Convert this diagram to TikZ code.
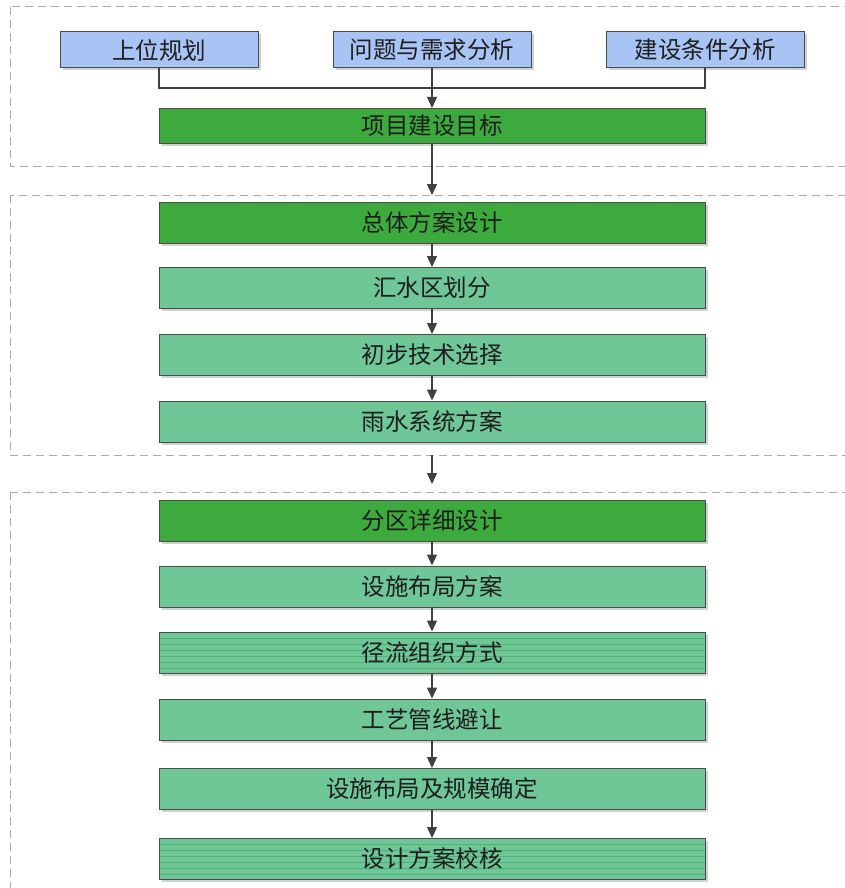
\documentclass[tikz,border=0pt]{standalone}
\usepackage{fontspec}
\newfontfamily\cjk{Noto Sans CJK SC}
\usetikzlibrary{arrows.meta,shadows}
\definecolor{boxline}{HTML}{4A4A4A}
\definecolor{txt}{HTML}{1E1E1E}
\definecolor{bluef}{HTML}{A8C4F4}
\definecolor{darkg}{HTML}{3DAA3D}
\definecolor{midg}{HTML}{6FC697}
\definecolor{stripec}{HTML}{4FB07A}
\definecolor{arrc}{HTML}{404040}
\definecolor{framec}{HTML}{AAAAAA}
\begin{document}
\begin{tikzpicture}[x=1pt,y=-1pt,
  base/.style={draw=boxline, line width=1pt, inner sep=0pt, text=txt,
    font=\cjk\fontsize{23.5}{26}\selectfont,
    drop shadow={shadow xshift=2.5pt, shadow yshift=-2.5pt, fill=black, opacity=0.18}},
  wide/.style={base, minimum width=546pt, minimum height=41pt},
  topbox/.style={base, fill=bluef, minimum width=198pt, minimum height=36pt},
  darkbox/.style={wide, fill=darkg},
  midbox/.style={wide, fill=midg},
  stripebox/.style={midbox, path picture={
      \foreach \k in {1,...,6}{
        \draw[stripec, line width=0.6pt]
          ([yshift=-\k*6pt]path picture bounding box.north west) --
          ([yshift=-\k*6pt]path picture bounding box.north east);}}},
  arr/.style={draw=arrc, line width=1.3pt, -{Triangle[width=10pt,length=11pt]}},
  link/.style={draw=arrc, line width=1.3pt},
  frame/.style={draw=framec, line width=1pt, dash pattern=on 8pt off 5pt}
]
\useasboundingbox (0,0) rectangle (845,888);
\clip (0,0) rectangle (845,888);

% dashed frames
\draw[frame] (10,7) rectangle (870,166);
\draw[frame] (10,195) rectangle (870,455);
\draw[frame] (10,492) rectangle (870,910);

% top row
\node[topbox] (up) at (159,50) {上位规划};
\node[topbox] (need) at (432,50) {问题与需求分析};
\node[topbox] (cond) at (705,50) {建设条件分析};

\node[darkbox, minimum height=35pt] (goal) at (432,126) {项目建设目标};

% section 2
\node[darkbox] (overall) at (432,222.5) {总体方案设计};
\node[midbox] (catch) at (432,288) {汇水区划分};
\node[midbox] (tech) at (432,355) {初步技术选择};
\node[midbox] (rain) at (432,421.5) {雨水系统方案};

% section 3
\node[darkbox] (zone) at (432,520.5) {分区详细设计};
\node[midbox] (layout) at (432,586.5) {设施布局方案};
\node[stripebox] (runoff) at (432,652.5) {径流组织方式};
\node[midbox] (pipe) at (432,719.5) {工艺管线避让};
\node[midbox] (scale) at (432,789) {设施布局及规模确定};
\node[stripebox] (check) at (432,859) {设计方案校核};

% connectors
\coordinate (j) at (432,88);
\coordinate (f2top) at (432,195);
\coordinate (f2bot) at (432,455);
\coordinate (f3in) at (432,484);
\draw[link] (up.south) |- (j);
\draw[link] (cond.south) |- (j);
\draw[arr] (need.south) -- (goal.north);
\draw[arr] (goal.south) -- (f2top);
\draw[arr] (overall.south) -- (catch.north);
\draw[arr] (catch.south) -- (tech.north);
\draw[arr] (tech.south) -- (rain.north);
\draw[arr] (f2bot) -- (f3in);
\draw[arr] (zone.south) -- (layout.north);
\draw[arr] (layout.south) -- (runoff.north);
\draw[arr] (runoff.south) -- (pipe.north);
\draw[arr] (pipe.south) -- (scale.north);
\draw[arr] (scale.south) -- (check.north);
\end{tikzpicture}
\end{document}
